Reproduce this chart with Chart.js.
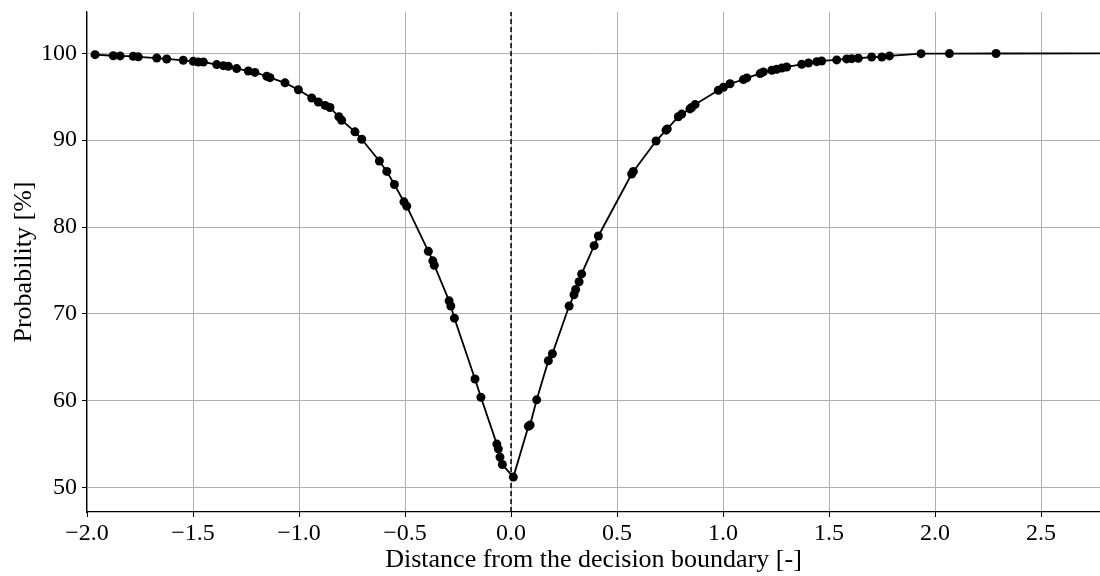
<!DOCTYPE html>
<html>
<head>
<meta charset="utf-8">
<script src="https://cdn.jsdelivr.net/npm/chart.js@4.4.0/dist/chart.umd.min.js"></script>
<style>
  html, body { margin: 0; padding: 0; background: #fff; }
  #wrap { width: 1100px; height: 576px; }
</style>
</head>
<body>
<div id="wrap"><canvas id="myChart" width="1100" height="576"></canvas></div>
<script>
// distance from boundary (x) and probability in % (y)
const distance = [
  -1.962, -1.876, -1.844, -1.782, -1.758, -1.671, -1.624, -1.546, -1.499, -1.475,
  -1.451, -1.388, -1.357, -1.333, -1.294, -1.239, -1.208, -1.152, -1.137, -1.066,
  -1.003, -0.940, -0.909, -0.877, -0.854, -0.812, -0.799, -0.736, -0.704, -0.621,
  -0.586, -0.550, -0.505, -0.492, -0.390, -0.369, -0.362, -0.292, -0.284, -0.267,
  -0.170, -0.142, -0.067, -0.060, -0.052, -0.041, 0.011, 0.082, 0.090, 0.121,
  0.176, 0.195, 0.274, 0.297, 0.305, 0.321, 0.333, 0.392, 0.412, 0.569,
  0.577, 0.684, 0.731, 0.737, 0.789, 0.805, 0.844, 0.852, 0.868, 0.978,
  1.002, 1.033, 1.096, 1.112, 1.175, 1.190, 1.230, 1.253, 1.277, 1.300,
  1.371, 1.403, 1.442, 1.465, 1.536, 1.583, 1.607, 1.638, 1.701, 1.749,
  1.785, 1.934, 2.068, 2.288, 2.778
]
const probability = [
  99.85, 99.72, 99.70, 99.65, 99.60, 99.46, 99.35, 99.20, 99.08, 99.00,
  99.00, 98.70, 98.58, 98.50, 98.24, 97.97, 97.80, 97.36, 97.20, 96.60,
  95.80, 94.86, 94.40, 94.00, 93.76, 92.70, 92.30, 90.96, 90.10, 87.60,
  86.40, 84.90, 82.90, 82.40, 77.20, 76.10, 75.60, 71.50, 70.90, 69.50,
  62.50, 60.40, 55.00, 54.45, 53.50, 52.65, 51.20, 57.05, 57.20, 60.10,
  64.60, 65.40, 70.90, 72.20, 72.80, 73.70, 74.60, 77.85, 78.97, 86.10,
  86.40, 89.90, 91.15, 91.30, 92.70, 93.00, 93.60, 93.76, 94.10, 95.75,
  96.10, 96.50, 96.98, 97.17, 97.67, 97.86, 98.05, 98.16, 98.30, 98.43,
  98.73, 98.89, 99.04, 99.12, 99.24, 99.36, 99.39, 99.43, 99.58, 99.58,
  99.70, 99.96, 99.97, 99.98, 100.0
]

const xTicks = [-2.0, -1.5, -1.0, -0.5, 0.0, 0.5, 1.0, 1.5, 2.0, 2.5]
const yTicks = [50, 60, 70, 80, 90, 100]

const xMin = -2.0
const xMax = 2.778
const yMin = 47.18
const yMax = 104.76

// decision boundary line
const boundaryX = [0, 0]
const boundaryY = [yMin, yMax]

const serif = "'Liberation Serif', 'DejaVu Serif', serif"

let points = distance.map((d, i) => ({ x: d, y: probability[i] }))
let boundary = boundaryX.map((d, i) => ({ x: d, y: boundaryY[i] }))

const lastIndex = points.length - 1

const ctx = document.getElementById('myChart').getContext('2d')

const myChart = new Chart(ctx, {
  type: 'scatter',
  data: {
    datasets: [
      {
        label: 'Probability',
        data: points,
        showLine: true,
        borderColor: '#000',
        backgroundColor: '#000',
        borderWidth: 1.8,
        tension: 0,
        pointRadius: c => c.dataIndex === lastIndex ? 0 : 4.5,
        pointBorderWidth: 0,
        order: 1
      },
      {
        label: 'Boundary',
        data: boundary,
        showLine: true,
        borderColor: '#000',
        borderWidth: 1.5,
        borderDash: [5, 3],
        pointRadius: 0,
        order: 2
      }
    ]
  },
  options: {
    responsive: false,
    animation: false,
    layout: { autoPadding: false, padding: { top: 12, right: 0, left: 0, bottom: 0 } },
    plugins: {
      legend: { display: false },
      tooltip: { enabled: false }
    },
    scales: {
      x: {
        type: 'linear',
        min: xMin,
        max: xMax,
        afterBuildTicks: s => { s.ticks = xTicks.map(v => ({ value: v })) },
        afterFit: s => { s.height = 64; s.paddingLeft = 0; s.paddingRight = 0 },
        border: { color: '#000', width: 1.2 },
        grid: { color: '#b0b0b0', lineWidth: 1, tickColor: '#000', tickLength: 5 },
        ticks: {
          color: '#000',
          padding: 2,
          maxRotation: 0,
          font: { family: serif, size: 24 },
          callback: v => v.toFixed(1).replace('-', '\u2212')
        },
        title: {
          display: true,
          text: 'Distance from the decision boundary [-]',
          color: '#000',
          font: { family: serif, size: 26 },
          padding: { top: 0, bottom: 0 }
        }
      },
      y: {
        type: 'linear',
        min: yMin,
        max: yMax,
        afterBuildTicks: s => { s.ticks = yTicks.map(v => ({ value: v })) },
        afterFit: s => { s.width = 87; s.paddingTop = 0; s.paddingBottom = 0 },
        border: { color: '#000', width: 1.2 },
        grid: { color: '#b0b0b0', lineWidth: 1, tickColor: '#000', tickLength: 5 },
        ticks: {
          color: '#000',
          padding: 5,
          font: { family: serif, size: 24 }
        },
        title: {
          display: true,
          text: 'Probability [%]',
          color: '#000',
          font: { family: serif, size: 26 },
          padding: { top: 9, bottom: 0 }
        }
      }
    }
  }
})
</script>
</body>
</html>
